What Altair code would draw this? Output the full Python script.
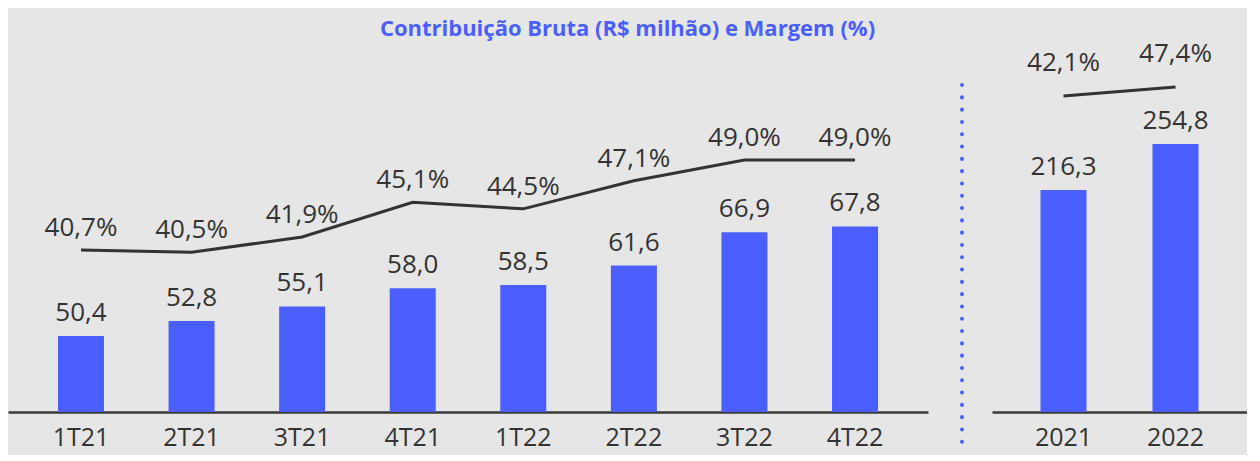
import altair as alt
import pandas as pd

quarters = ["1T21", "2T21", "3T21", "4T21", "1T22", "2T22", "3T22", "4T22"]
contrib_q = [50.4, 52.8, 55.1, 58.0, 58.5, 61.6, 66.9, 67.8]
margin_q = [40.7, 40.5, 41.9, 45.1, 44.5, 47.1, 49.0, 49.0]

years = ["2021", "2022"]
contrib_y = [216.3, 254.8]
margin_y = [42.1, 47.4]

BLUE = "#4B5EFF"
TXT = "#333333"
FONT = "Open Sans"
TOP = 50          # page y of plot top
BOTTOM = 411      # page y of x axis line
H = BOTTOM - TOP


def fmt(v, suffix=""):
    return f"{v:.1f}".replace(".", ",") + suffix


def panel(cats, vals, margins, bar_min, bar_px, line_min, line_px, p_in, p_out, line_dy):
    df = pd.DataFrame({"cat": cats, "val": vals, "mrg": margins})
    df["val_lbl"] = [fmt(v) for v in vals]
    df["mrg_lbl"] = [fmt(v, "%") for v in margins]
    bar_dom = [bar_min, bar_min + H / bar_px]
    line_dom = [line_min, line_min + H / line_px]
    x = alt.X("cat:N", sort=cats, title=None,
              scale=alt.Scale(paddingInner=p_in, paddingOuter=p_out))
    base = alt.Chart(df).encode(x=x)
    yb = alt.Y("val:Q", scale=alt.Scale(domain=bar_dom, zero=False, nice=False), axis=None)
    yl = alt.Y("mrg:Q", scale=alt.Scale(domain=line_dom, zero=False, nice=False), axis=None)
    bars = base.mark_bar(color=BLUE).encode(y=yb, y2=alt.datum(bar_min))
    bar_txt = base.mark_text(dy=-23, fontSize=26, font=FONT, color=TXT).encode(y=yb, text="val_lbl:N")
    line = base.mark_line(color=TXT, strokeWidth=3).encode(y=yl)
    line_txt = base.mark_text(dy=line_dy, fontSize=26, font=FONT, color=TXT).encode(y=yl, text="mrg_lbl:N")
    return [bars, bar_txt, line, line_txt]


left_layers = panel(quarters, contrib_q, margin_q, 38.35, 6.30, 25.76, 10.84, 0.584, 0.452, -22)
left = alt.layer(*left_layers).resolve_scale(y="independent").properties(width=920, height=H)

right_layers = panel(years, contrib_y, margin_y, 30.5, 1.195, -144.0, 1.698, 0.589, 0.433, -33)
sep = alt.Chart(pd.DataFrame({"s": [0]})).mark_rule(
    color=BLUE, strokeWidth=4, strokeDash=[0.1, 12.2], strokeCap="round"
).encode(x=alt.value(-30), y=alt.value(84 - TOP), y2=alt.value(452 - TOP))
right = alt.layer(*right_layers, sep).resolve_scale(y="independent").properties(width=255, height=H)

chart = alt.hconcat(left, right, spacing=32).properties(
    title=alt.TitleParams("Contribuição Bruta (R$ milhão) e Margem (%)", anchor="middle", offset=0),
    padding={"top": 10, "left": 0, "right": 0, "bottom": 0},
    background="#e6e6e6",
).configure_view(stroke=None).configure_axisX(
    domainColor="#3a3a3a", domainWidth=2.5, ticks=False, labelFontSize=25,
    labelColor=TXT, labelFont=FONT, labelPadding=13, labelAngle=0, grid=False,
).configure_title(
    fontSize=22, font=FONT, fontWeight="bold", color=BLUE,
)

chart.save("out.html", embed_options={"renderer": "svg", "actions": False})
